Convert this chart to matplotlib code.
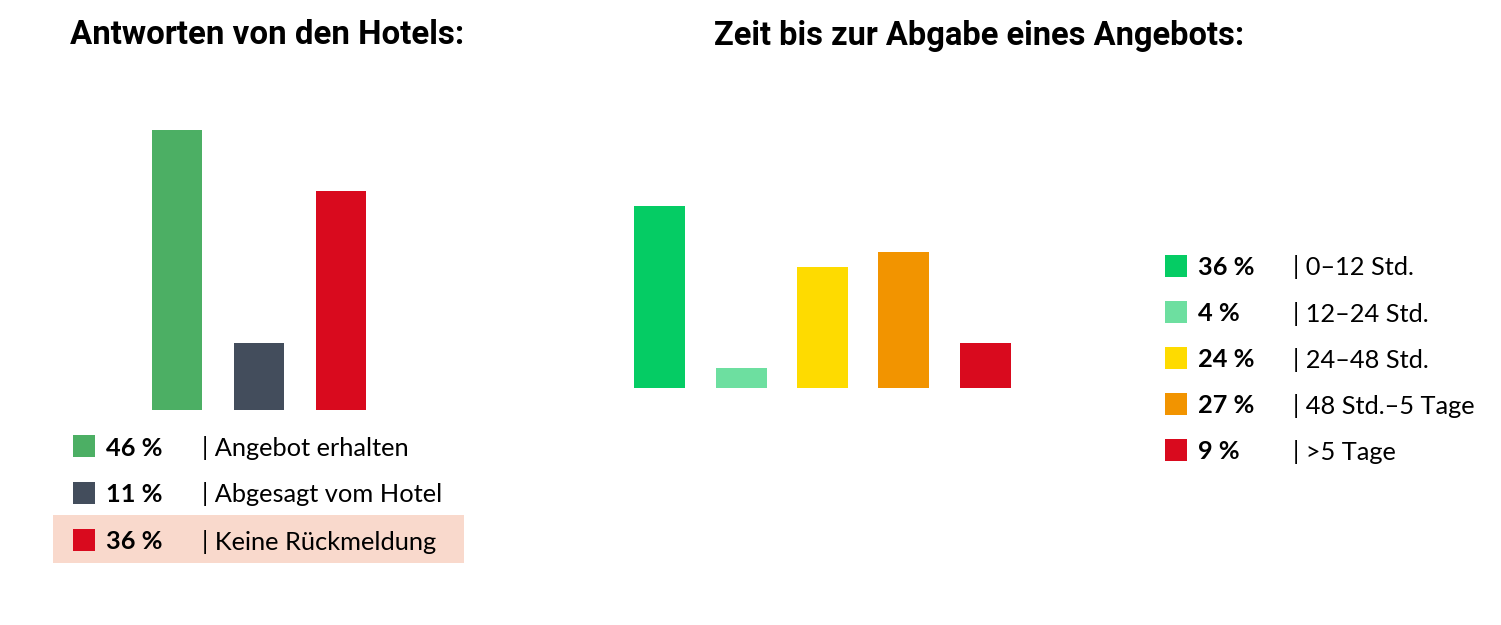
import matplotlib
matplotlib.use('Agg')
import matplotlib.pyplot as plt
from matplotlib.patches import Rectangle

# Data: responses from hotels
resp_labels = ['Angebot erhalten', 'Abgesagt vom Hotel', 'Keine Rückmeldung']
resp_values = [46, 11, 36]
resp_colors = ['#4caf64', '#434d5c', '#d90a1e']

# Data: time until an offer was submitted
time_labels = ['0–12 Std.', '12–24 Std.', '24–48 Std.', '48 Std.–5 Tage', '>5 Tage']
time_values = [36, 4, 24, 27, 9]
time_colors = ['#05cc64', '#6ddfa0', '#fedb00', '#f29400', '#d90a1e']

W, H = 1501, 625
fig = plt.figure(figsize=(W / 100, H / 100), dpi=100)
fig.patch.set_facecolor('white')


def px_axes(x0, y0, x1, y1):
    # pixel box (top-left origin) -> figure axes
    ax = fig.add_axes([x0 / W, 1 - y1 / H, (x1 - x0) / W, (y1 - y0) / H])
    ax.axis('off')
    return ax


def fx(x):
    return x / W


def fy(y):
    return 1 - y / H


legend_font = 'Lato'
title_font = 'Roboto'

# Left bar chart
ax1 = px_axes(136, 130, 382, 410)
ax1.bar(range(len(resp_values)), resp_values, width=0.62, color=resp_colors)
ax1.set_xlim(-0.5, len(resp_values) - 0.5)
ax1.set_ylim(0, max(resp_values))

# Right bar chart
ax2 = px_axes(619, 206, 1026, 388)
ax2.bar(range(len(time_values)), time_values, width=0.626, color=time_colors)
ax2.set_xlim(-0.5, len(time_values) - 0.5)
ax2.set_ylim(0, max(time_values))

# Titles
fig.text(fx(70), fy(44.5), 'Antworten von den Hotels:', fontsize=23.8,
         fontweight='bold', family=title_font, va='baseline', ha='left')
fig.text(fx(714), fy(44.5), 'Zeit bis zur Abgabe eines Angebots:', fontsize=23.5,
         fontweight='bold', family=title_font, va='baseline', ha='left')

# Left legend, last row highlighted
fig.patches.append(Rectangle((fx(53), fy(563)), fx(464 - 53), (563 - 515) / H,
                             transform=fig.transFigure, facecolor='#f9d9cc',
                             edgecolor='none', zorder=0))
left_rows = [446, 492.5, 539.5]
for yc, lab, val, col in zip(left_rows, resp_labels, resp_values, resp_colors):
    fig.patches.append(Rectangle((fx(73), fy(yc + 11)), fx(22), 22 / H,
                                 transform=fig.transFigure, facecolor=col,
                                 edgecolor='none'))
    fig.text(fx(106), fy(yc + 2), f'{val} %', fontsize=18.3, fontweight='bold',
             family=legend_font, va='center', ha='left')
    fig.text(fx(202), fy(yc + 2), f'| {lab}', fontsize=18.3,
             family=legend_font, va='center', ha='left')

# Right legend
right_rows = [265.5, 311.5, 357.5, 403.5, 449.5]
for yc, lab, val, col in zip(right_rows, time_labels, time_values, time_colors):
    fig.patches.append(Rectangle((fx(1165), fy(yc + 11)), fx(21.5), 22 / H,
                                 transform=fig.transFigure, facecolor=col,
                                 edgecolor='none'))
    fig.text(fx(1198), fy(yc + 2), f'{val} %', fontsize=18.3, fontweight='bold',
             family=legend_font, va='center', ha='left')
    fig.text(fx(1293), fy(yc + 2), f'| {lab}', fontsize=18.3,
             family=legend_font, va='center', ha='left')

fig.savefig('out.png', dpi=100, facecolor='white')
